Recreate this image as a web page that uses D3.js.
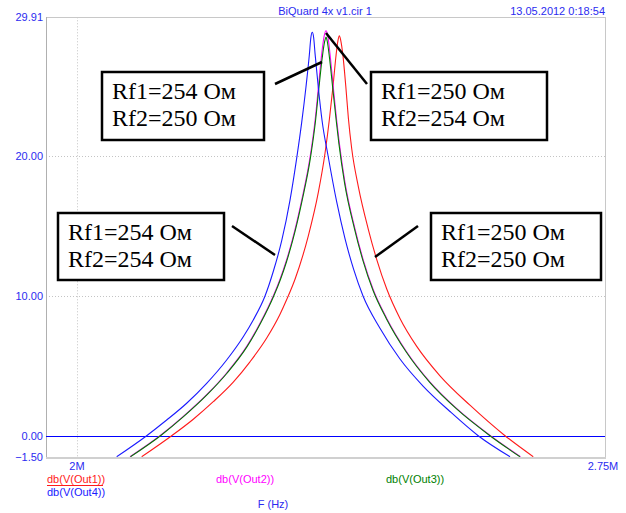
<!DOCTYPE html>
<html>
<head>
<meta charset="utf-8">
<script src="https://cdn.jsdelivr.net/npm/d3@7"></script>
<style>
  html, body { margin: 0; padding: 0; background: #ffffff; }
  svg { display: block; }
  .lbl { font-family: "Liberation Sans", Arial, sans-serif; font-size: 11px; }
  .note { font-family: "Liberation Serif", "Times New Roman", serif; font-size: 24px; fill: #000; }
</style>
</head>
<body>
<svg id="chart" width="626" height="513"></svg>
<script>
// Frequency sweep (MHz) and gain (dB) for each output
const out1Freq = [2.0919, 2.1345, 2.1652, 2.1936, 2.2220, 2.2457, 2.2695, 2.2884, 2.2979, 2.3097, 2.3286, 2.3428, 2.3523, 2.3587, 2.3637, 2.3680, 2.3707, 2.3727,
                  2.3747, 2.3775, 2.3818, 2.3855, 2.3903, 2.3997, 2.4139, 2.4258, 2.4400, 2.4588, 2.4826, 2.5156, 2.5582, 2.6080, 2.6481];
const out1Db   = [-1.48, 0.02, 1.2, 2.45, 3.85, 5.3, 7.0, 8.7, 9.75, 11.2, 14.3, 17.4, 20.2, 22.7, 25.0, 27.2, 28.25, 28.59,
                  28.25, 27.3, 25.0, 22.7, 20.5, 17.8, 14.75, 12.6, 10.5, 8.4, 6.4, 4.3, 2.2, 0.02, -1.48];

const out2Freq = [2.0753, 2.1179, 2.1510, 2.1842, 2.2126, 2.2411, 2.2600, 2.2788, 2.2884, 2.2969, 2.3056, 2.3192, 2.3310, 2.3381, 2.3428, 2.3476, 2.3512, 2.3537,
                  2.3562, 2.3594, 2.3641, 2.3690, 2.3727, 2.3807, 2.3949, 2.4068, 2.4210, 2.4400, 2.4684, 2.5015, 2.5395, 2.5873, 2.6299];
const out2Db   = [-1.48, 0.02, 1.4, 2.95, 4.5, 6.4, 8.05, 10.0, 11.2, 12.45, 13.95, 16.85, 19.9, 22.5, 24.85, 27.3, 28.6, 28.95,
                  28.6, 27.3, 24.9, 22.5, 20.9, 18.1, 14.8, 12.55, 10.43, 8.4, 6.0, 3.85, 1.95, 0.02, -1.48];

const out3Freq = [2.0760, 2.1186, 2.1517, 2.1849, 2.2133, 2.2418, 2.2607, 2.2795, 2.2891, 2.2976, 2.3063, 2.3199, 2.3317, 2.3388, 2.3435, 2.3483, 2.3519, 2.3537,
                  2.3555, 2.3587, 2.3634, 2.3683, 2.3720, 2.3800, 2.3942, 2.4061, 2.4203, 2.4393, 2.4677, 2.5008, 2.5388, 2.5866, 2.6292];
const out3Db   = [-1.48, 0.02, 1.4, 2.95, 4.5, 6.4, 8.05, 10.0, 11.2, 12.45, 13.95, 16.85, 19.9, 22.5, 24.8, 27.0, 28.2, 28.5,
                  28.2, 27.0, 24.8, 22.5, 20.9, 18.1, 14.8, 12.55, 10.43, 8.4, 6.0, 3.85, 1.95, 0.02, -1.48];

const out4Freq = [2.0564, 2.0990, 2.1274, 2.1558, 2.1842, 2.2126, 2.2362, 2.2504, 2.2671, 2.2788, 2.2908, 2.3026, 2.3121, 2.3192, 2.3253, 2.3300, 2.3322, 2.3342,
                  2.3362, 2.3382, 2.3427, 2.3482, 2.3567, 2.3690, 2.3807, 2.3930, 2.4063, 2.4304, 2.4588, 2.4919, 2.5298, 2.5699, 2.6151];
const out4Db   = [-1.48, 0.02, 1.14, 2.34, 3.76, 5.43, 7.09, 8.29, 10.0, 11.75, 13.95, 16.85, 19.85, 22.4, 24.95, 27.2, 28.45, 28.84,
                  28.45, 27.3, 24.95, 22.5, 20.0, 16.7, 14.1, 11.9, 10.0, 7.7, 5.5, 3.55, 1.75, 0.02, -1.48];

// Axis ticks
const yTicks = [-1.5, 0, 10, 20, 29.91];
const yGrid = [10, 20];
const xTicks = [2.0, 2.75];
const xTickLabels = ["2M", "2.75M"];
const xGrid = [2.0];

// Legend entries
const legendNames = ["db(V(Out1))", "db(V(Out2))", "db(V(Out3))", "db(V(Out4))"];

// Callout boxes: two text lines each
const noteLine1 = ["Rf1=254 Ом", "Rf1=250 Ом", "Rf1=254 Ом", "Rf1=250 Ом"];
const noteLine2 = ["Rf2=250 Ом", "Rf2=254 Ом", "Rf2=254 Ом", "Rf2=250 Ом"];

const svg = d3.select("#chart");
const plot = { left: 46, right: 605, top: 17.3, bottom: 457 };

const x = d3.scaleLinear().domain([1.956, 2.75]).range([plot.left, plot.right]);
const y = d3.scaleLinear().domain([-1.5, 29.91]).range([plot.bottom, plot.top]);

const axisBlue = "#2b2bf0";

// Title and timestamp
svg.append("text").attr("class", "lbl").attr("x", 325).attr("y", 15)
  .attr("text-anchor", "middle").attr("fill", axisBlue).text("BiQuard 4x v1.cir 1");
svg.append("text").attr("class", "lbl").attr("x", 605).attr("y", 15)
  .attr("text-anchor", "end").attr("fill", axisBlue).text("13.05.2012 0:18:54");

// Grid
const grid = svg.append("g");
grid.selectAll("line.h").data(yGrid).join("line")
  .attr("x1", plot.left).attr("x2", plot.right)
  .attr("y1", d => Math.round(y(d)) + 0.5).attr("y2", d => Math.round(y(d)) + 0.5)
  .attr("stroke", "#c4c4c4").attr("stroke-dasharray", "1,2");
grid.selectAll("line.v").data(xGrid).join("line")
  .attr("x1", d => Math.round(x(d)) + 0.5).attr("x2", d => Math.round(x(d)) + 0.5)
  .attr("y1", plot.top).attr("y2", plot.bottom)
  .attr("stroke", "#c4c4c4").attr("stroke-dasharray", "1,2");

// Frame
svg.append("line").attr("x1", plot.left).attr("x2", plot.right).attr("y1", 17.5).attr("y2", 17.5)
  .attr("stroke", "#c8c8c8");
svg.append("line").attr("x1", plot.right + 0.5).attr("x2", plot.right + 0.5).attr("y1", 17).attr("y2", plot.bottom)
  .attr("stroke", "#c8c8c8");
svg.append("line").attr("x1", plot.left).attr("x2", plot.right + 1).attr("y1", plot.bottom + 1).attr("y2", plot.bottom + 1)
  .attr("stroke", "#d0d0d0").attr("stroke-width", 2);
svg.append("line").attr("x1", plot.left + 0.5).attr("x2", plot.left + 0.5).attr("y1", 17).attr("y2", plot.bottom)
  .attr("stroke", "#b0b0b0");

// Y tick labels
svg.selectAll("text.yt").data(yTicks).join("text")
  .attr("class", "lbl").attr("x", 43).attr("y", d => y(d) + 4)
  .attr("text-anchor", "end").attr("fill", axisBlue)
  .text(d => d3.format(".2f")(d));

// X tick labels
svg.selectAll("text.xt").data(xTicks).join("text")
  .attr("class", "lbl").attr("x", (d, i) => x(d) + (i === 1 ? -2 : 0)).attr("y", 470)
  .attr("text-anchor", "middle").attr("fill", axisBlue)
  .text((d, i) => xTickLabels[i]);

// Zero reference line
svg.append("line").attr("x1", plot.left).attr("x2", plot.right)
  .attr("y1", Math.round(y(0)) + 0.5).attr("y2", Math.round(y(0)) + 0.5)
  .attr("stroke", "#0000ff").attr("stroke-width", 1);

// Curves
svg.append("clipPath").attr("id", "clip").append("rect")
  .attr("x", plot.left).attr("y", plot.top).attr("width", plot.right - plot.left).attr("height", plot.bottom - plot.top);

const line = d3.line().x(d => x(d[0])).y(d => y(d[1])).curve(d3.curveMonotoneX);
const series = [
  { f: out1Freq, v: out1Db, color: "#ff1a1a" },
  { f: out2Freq, v: out2Db, color: "#ff00ff" },
  { f: out3Freq, v: out3Db, color: "#008000" },
  { f: out4Freq, v: out4Db, color: "#1a1aff" }
];
const curves = svg.append("g").attr("clip-path", "url(#clip)");
series.forEach(s => {
  curves.append("path")
    .datum(s.f.map((f, i) => [f, s.v[i]]))
    .attr("fill", "none").attr("stroke", s.color).attr("stroke-width", 1.1)
    .attr("d", line);
});

// Legend
const legendPos = [[47, 483], [216, 483], [386, 483], [47, 496]];
legendNames.forEach((name, i) => {
  svg.append("text").attr("class", "lbl").attr("x", legendPos[i][0]).attr("y", legendPos[i][1])
    .attr("fill", series[i].color).text(name);
});
svg.append("line").attr("x1", 47).attr("x2", 103).attr("y1", 485.5).attr("y2", 485.5)
  .attr("stroke", series[0].color).attr("stroke-width", 1);
svg.append("text").attr("class", "lbl").attr("x", 273).attr("y", 508)
  .attr("text-anchor", "middle").attr("fill", axisBlue).text("F (Hz)");

// Callout leader lines
const leaders = [
  [[275, 84], [322, 62]],
  [[326, 33], [367, 84]],
  [[232, 226], [275, 255]],
  [[375, 257], [418, 226]]
];
leaders.forEach(l => {
  svg.append("line").attr("x1", l[0][0]).attr("y1", l[0][1]).attr("x2", l[1][0]).attr("y2", l[1][1])
    .attr("stroke", "#000").attr("stroke-width", 2.5);
});

// Callout boxes
const boxes = [
  { x: 102, y: 72, w: 162, h: 68 },
  { x: 371, y: 72, w: 176, h: 68 },
  { x: 58, y: 213, w: 166, h: 67 },
  { x: 431, y: 213, w: 170, h: 67 }
];
boxes.forEach((b, i) => {
  svg.append("rect").attr("x", b.x).attr("y", b.y).attr("width", b.w).attr("height", b.h)
    .attr("fill", "#fff").attr("stroke", "#000").attr("stroke-width", 2.5);
  svg.append("text").attr("class", "note").attr("x", b.x + 10).attr("y", b.y + 27).text(noteLine1[i]);
  svg.append("text").attr("class", "note").attr("x", b.x + 10).attr("y", b.y + 54).text(noteLine2[i]);
});
</script>
</body>
</html>
